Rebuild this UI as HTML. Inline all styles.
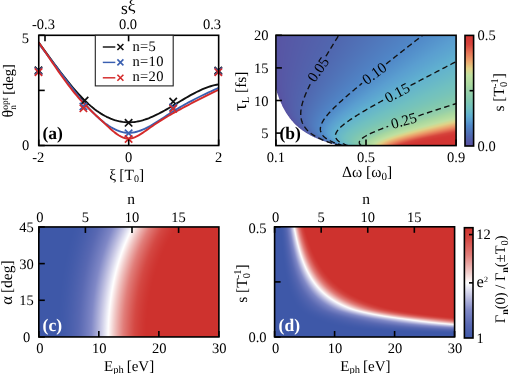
<!DOCTYPE html>
<html><head><meta charset="utf-8"><style>
html,body{margin:0;padding:0;background:#fff;}
#wrap{position:relative;width:511px;height:374px;overflow:hidden;}
canvas,svg{position:absolute;left:0;top:0;}
.fb{position:absolute;}
svg text{font-family:"Liberation Serif",serif;fill:#000;text-rendering:geometricPrecision;}
</style></head><body><div id="wrap">
<div class="fb" style="left:275.9px;top:35.3px;width:180.20000000000005px;height:110.3px;background:radial-gradient(ellipse 70px 55px at 0px 110px,#fff 98%,transparent 100%),linear-gradient(165deg,#5a4fa0 0%,#5068b0 30%,#5088c8 48%,#70c0c0 62%,#c0e0a0 76%,#eba56d 84%,#d84a40 92%,#d23432 100%);"></div>
<div class="fb" style="left:38.8px;top:226.95px;width:180.10000000000002px;height:110.0px;background:linear-gradient(90deg,#3e58a8 0%,#3e58a8 16%,#8088c4 33%,#fff 42%,#e17e7a 50%,#ce322e 58%,#ce322e 100%);"></div>
<div class="fb" style="left:274.6px;top:226.8px;width:180.0px;height:110.19999999999999px;background:radial-gradient(ellipse 175px 98px at 100% 0%,#ce322e 80%,#fff 90%,#8088c4 97%,#3e58a8 100%);"></div>
<div class="fb" style="left:465.0px;top:35.4px;width:8.600000000000023px;height:110.6px;background:linear-gradient(0deg,#5a4fa0,#5088c8 18%,#70c0c0 34%,#98d0a8 50%,#c0e0a0 64%,#eba56d 76%,#e57255 85%,#d63c3c 100%);"></div>
<div class="fb" style="left:464.4px;top:227.7px;width:8.600000000000023px;height:110.30000000000001px;background:linear-gradient(0deg,#3e58a8,#8088c4 25%,#fff 50%,#e17e7a 75%,#ce322e);"></div>
<canvas id="cv" width="511" height="374"></canvas>
<svg width="511" height="374" viewBox="0 0 511 374">
<defs>
<clipPath id="clipa"><rect x="38.75" y="35.3" width="179.9" height="110.2"/></clipPath>
<clipPath id="clipb"><rect x="275.9" y="35.3" width="180.20000000000005" height="110.3"/></clipPath>
</defs>
<g clip-path="url(#clipa)" fill="none" stroke-width="1.9" stroke-linejoin="round">
<path d="M38.60,42.32 L40.60,45.07 L42.60,47.82 L44.60,50.57 L46.60,53.32 L48.60,56.07 L50.60,58.80 L52.60,61.53 L54.60,64.23 L56.60,66.92 L58.60,69.58 L60.60,72.22 L62.60,74.82 L64.60,77.39 L66.60,79.92 L68.60,82.41 L70.60,84.85 L72.60,87.24 L74.60,89.57 L76.60,91.85 L78.60,94.07 L80.60,96.22 L82.60,98.31 L84.60,100.32 L86.60,102.25 L88.60,104.11 L90.60,105.88 L92.60,107.56 L94.60,109.16 L96.60,110.66 L98.60,112.06 L100.60,113.38 L102.60,114.60 L104.60,115.74 L106.60,116.78 L108.60,117.73 L110.60,118.59 L112.60,119.36 L114.60,120.04 L116.60,120.63 L118.60,121.14 L120.60,121.55 L122.60,121.87 L124.60,122.11 L126.60,122.25 L128.60,122.31 L130.60,122.28 L132.60,122.17 L134.60,121.96 L136.60,121.67 L138.60,121.29 L140.60,120.83 L142.60,120.30 L144.60,119.69 L146.60,119.01 L148.60,118.27 L150.60,117.46 L152.60,116.60 L154.60,115.69 L156.60,114.73 L158.60,113.73 L160.60,112.68 L162.60,111.60 L164.60,110.49 L166.60,109.36 L168.60,108.20 L170.60,107.02 L172.60,105.83 L174.60,104.63 L176.60,103.43 L178.60,102.22 L180.60,101.02 L182.60,99.82 L184.60,98.64 L186.60,97.47 L188.60,96.32 L190.60,95.20 L192.60,94.11 L194.60,93.04 L196.60,92.02 L198.60,91.04 L200.60,90.10 L202.60,89.21 L204.60,88.38 L206.60,87.60 L208.60,86.89 L210.60,86.25 L212.60,85.67 L214.60,85.17 L216.60,84.75 L218.50,84.43" stroke="#111111"/>
<path d="M38.60,43.69 L40.60,46.22 L42.60,48.78 L44.60,51.37 L46.60,53.99 L48.60,56.64 L50.60,59.30 L52.60,61.98 L54.60,64.67 L56.60,67.36 L58.60,70.06 L60.60,72.75 L62.60,75.44 L64.60,78.12 L66.60,80.79 L68.60,83.43 L70.60,86.05 L72.60,88.65 L74.60,91.21 L76.60,93.73 L78.60,96.22 L80.60,98.66 L82.60,101.05 L84.60,103.39 L86.60,105.67 L88.60,107.89 L90.60,110.05 L92.60,112.13 L94.60,114.14 L96.60,116.07 L98.60,117.92 L100.60,119.68 L102.60,121.35 L104.60,122.93 L106.60,124.40 L108.60,125.77 L110.60,127.03 L112.60,128.18 L114.60,129.21 L116.60,130.13 L118.60,130.91 L120.60,131.57 L122.60,132.09 L124.60,132.47 L126.60,132.71 L128.60,132.81 L130.60,132.75 L132.60,132.55 L134.60,132.22 L136.60,131.77 L138.60,131.19 L140.60,130.51 L142.60,129.73 L144.60,128.85 L146.60,127.90 L148.60,126.87 L150.60,125.77 L152.60,124.61 L154.60,123.41 L156.60,122.16 L158.60,120.89 L160.60,119.59 L162.60,118.27 L164.60,116.95 L166.60,115.63 L168.60,114.32 L170.60,113.03 L172.60,111.76 L174.60,110.51 L176.60,109.29 L178.60,108.10 L180.60,106.92 L182.60,105.77 L184.60,104.63 L186.60,103.52 L188.60,102.43 L190.60,101.35 L192.60,100.29 L194.60,99.25 L196.60,98.23 L198.60,97.23 L200.60,96.24 L202.60,95.26 L204.60,94.30 L206.60,93.35 L208.60,92.42 L210.60,91.50 L212.60,90.59 L214.60,89.69 L216.60,88.80 L218.50,87.97" stroke="#3a5fb0"/>
<path d="M38.60,42.25 L40.60,45.17 L42.60,48.12 L44.60,51.07 L46.60,54.03 L48.60,56.98 L50.60,59.94 L52.60,62.88 L54.60,65.80 L56.60,68.71 L58.60,71.59 L60.60,74.44 L62.60,77.25 L64.60,80.02 L66.60,82.75 L68.60,85.42 L70.60,88.03 L72.60,90.59 L74.60,93.07 L76.60,95.48 L78.60,97.81 L80.60,100.06 L82.60,102.23 L84.60,104.33 L86.60,106.37 L88.60,108.35 L90.60,110.28 L92.60,112.19 L94.60,114.07 L96.60,115.93 L98.60,117.79 L100.60,119.65 L102.60,121.52 L104.60,123.41 L106.60,125.30 L108.60,127.17 L110.60,128.99 L112.60,130.73 L114.60,132.37 L116.60,133.87 L118.60,135.21 L120.60,136.37 L122.60,137.32 L124.60,138.02 L126.60,138.46 L128.60,138.61 L130.60,138.45 L132.60,138.00 L134.60,137.31 L136.60,136.41 L138.60,135.35 L140.60,134.15 L142.60,132.86 L144.60,131.51 L146.60,130.12 L148.60,128.72 L150.60,127.31 L152.60,125.91 L154.60,124.53 L156.60,123.19 L158.60,121.89 L160.60,120.62 L162.60,119.37 L164.60,118.16 L166.60,116.97 L168.60,115.80 L170.60,114.65 L172.60,113.51 L174.60,112.38 L176.60,111.27 L178.60,110.17 L180.60,109.07 L182.60,107.99 L184.60,106.91 L186.60,105.84 L188.60,104.79 L190.60,103.74 L192.60,102.70 L194.60,101.66 L196.60,100.64 L198.60,99.62 L200.60,98.61 L202.60,97.60 L204.60,96.61 L206.60,95.61 L208.60,94.63 L210.60,93.65 L212.60,92.67 L214.60,91.70 L216.60,90.74 L218.50,89.82" stroke="#d42a2a"/>
</g>
<path d="M34.80,66.60L42.20,74.00M34.80,74.00L42.20,66.60" stroke="#111111" stroke-width="1.7" fill="none"/>
<path d="M80.90,96.90L88.30,104.30M80.90,104.30L88.30,96.90" stroke="#111111" stroke-width="1.7" fill="none"/>
<path d="M124.90,119.10L132.30,126.50M124.90,126.50L132.30,119.10" stroke="#111111" stroke-width="1.7" fill="none"/>
<path d="M169.50,97.90L176.90,105.30M169.50,105.30L176.90,97.90" stroke="#111111" stroke-width="1.7" fill="none"/>
<path d="M214.60,66.80L222.00,74.20M214.60,74.20L222.00,66.80" stroke="#111111" stroke-width="1.7" fill="none"/>
<path d="M34.80,67.50L42.20,74.90M34.80,74.90L42.20,67.50" stroke="#3a5fb0" stroke-width="1.7" fill="none"/>
<path d="M79.70,102.80L87.10,110.20M79.70,110.20L87.10,102.80" stroke="#3a5fb0" stroke-width="1.7" fill="none"/>
<path d="M124.90,129.60L132.30,137.00M124.90,137.00L132.30,129.60" stroke="#3a5fb0" stroke-width="1.7" fill="none"/>
<path d="M169.50,103.70L176.90,111.10M169.50,111.10L176.90,103.70" stroke="#3a5fb0" stroke-width="1.7" fill="none"/>
<path d="M214.60,67.70L222.00,75.10M214.60,75.10L222.00,67.70" stroke="#3a5fb0" stroke-width="1.7" fill="none"/>
<path d="M34.80,68.40L42.20,75.80M34.80,75.80L42.20,68.40" stroke="#d42a2a" stroke-width="1.7" fill="none"/>
<path d="M79.70,104.60L87.10,112.00M79.70,112.00L87.10,104.60" stroke="#d42a2a" stroke-width="1.7" fill="none"/>
<path d="M124.90,135.30L132.30,142.70M124.90,142.70L132.30,135.30" stroke="#d42a2a" stroke-width="1.7" fill="none"/>
<path d="M169.50,105.10L176.90,112.50M169.50,112.50L176.90,105.10" stroke="#d42a2a" stroke-width="1.7" fill="none"/>
<path d="M214.60,68.50L222.00,75.90M214.60,75.90L222.00,68.50" stroke="#d42a2a" stroke-width="1.7" fill="none"/>
<rect x="38.75" y="35.3" width="179.90" height="110.20" fill="none" stroke="#000" stroke-width="1.6"/>
<line x1="38.75" y1="145.50" x2="38.75" y2="139.50" stroke="#000" stroke-width="1.6"/>
<line x1="128.70" y1="145.50" x2="128.70" y2="139.50" stroke="#000" stroke-width="1.6"/>
<line x1="218.65" y1="145.50" x2="218.65" y2="139.50" stroke="#000" stroke-width="1.6"/>
<line x1="38.75" y1="145.50" x2="44.75" y2="145.50" stroke="#000" stroke-width="1.6"/>
<line x1="38.75" y1="90.40" x2="44.75" y2="90.40" stroke="#000" stroke-width="1.6"/>
<line x1="38.75" y1="35.30" x2="44.75" y2="35.30" stroke="#000" stroke-width="1.6"/>
<rect x="95.3" y="35.3" width="77.9" height="50.60" fill="#fff" stroke="#222" stroke-width="1.1"/>
<line x1="102.8" y1="47.0" x2="115.3" y2="47.0" stroke="#111111" stroke-width="1.45"/>
<path d="M117.40,44.00L123.40,50.00M117.40,50.00L123.40,44.00" stroke="#111111" stroke-width="1.6" fill="none"/>
<text x="132.40" y="50.50" font-size="14.5" text-anchor="start" letter-spacing="0.4">n=5</text>
<line x1="102.8" y1="62.4" x2="115.3" y2="62.4" stroke="#3a5fb0" stroke-width="1.45"/>
<path d="M117.40,59.40L123.40,65.40M117.40,65.40L123.40,59.40" stroke="#3a5fb0" stroke-width="1.6" fill="none"/>
<text x="132.40" y="65.90" font-size="14.5" text-anchor="start" letter-spacing="0.4">n=10</text>
<line x1="102.8" y1="77.8" x2="115.3" y2="77.8" stroke="#d42a2a" stroke-width="1.45"/>
<path d="M117.40,74.80L123.40,80.80M117.40,80.80L123.40,74.80" stroke="#d42a2a" stroke-width="1.6" fill="none"/>
<text x="132.40" y="81.30" font-size="14.5" text-anchor="start" letter-spacing="0.4">n=20</text>
<line x1="45.00" y1="35.30" x2="45.00" y2="41.30" stroke="#000" stroke-width="1.6"/>
<line x1="128.60" y1="35.30" x2="128.60" y2="41.30" stroke="#000" stroke-width="1.6"/>
<text x="38.25" y="161.50" font-size="14.5" text-anchor="middle" >-2</text>
<text x="128.70" y="161.50" font-size="14.5" text-anchor="middle" >0</text>
<text x="218.65" y="161.50" font-size="14.5" text-anchor="middle" >2</text>
<text x="25.60" y="149.80" font-size="14.5" text-anchor="middle" >0</text>
<text x="25.30" y="43.30" font-size="14.5" text-anchor="middle" >5</text>
<text x="43.50" y="29.00" font-size="14.5" text-anchor="middle" >-0.3</text>
<text x="128.00" y="29.00" font-size="14.5" text-anchor="middle" >0.0</text>
<text x="212.00" y="29.00" font-size="14.5" text-anchor="middle" >0.3</text>
<text x="128.20" y="13.60" font-size="17.5" text-anchor="middle" >s<tspan dy="-2.2">&#958;</tspan></text>
<text x="126.75" y="179.60" font-size="15.5" text-anchor="middle" >&#958;&#8201;[T<tspan font-size="10" dy="2.3">0</tspan><tspan dy="-2.3">]</tspan></text>
<text transform="translate(13.3,90.8) rotate(-90)" font-size="14.5" text-anchor="middle"><tspan font-size="16">&#952;</tspan><tspan font-size="9.5" dy="3">n</tspan><tspan font-size="9.5" dx="-4.8" dy="-8">opt</tspan><tspan dy="5">&#8201;[deg]</tspan></text>
<text x="42.5" y="139.3" font-size="17.5" font-weight="bold">(a)</text>
<g clip-path="url(#clipb)">
<path d="M340.57,145.60 L338.35,145.05 L336.25,144.50 L334.27,143.95 L332.40,143.39 L330.62,142.84 L328.94,142.29 L327.34,141.74 L325.83,141.19 L324.39,140.64 L323.03,140.08 L321.73,139.53 L320.50,138.98 L319.33,138.43 L318.21,137.88 L317.15,137.33 L316.14,136.78 L315.18,136.22 L314.27,135.67 L313.40,135.12 L312.58,134.57 L311.79,134.02 L311.04,133.47 L310.33,132.92 L309.66,132.36 L309.02,131.81 L308.41,131.26 L307.83,130.71 L307.28,130.16 L306.77,129.61 L306.28,129.06 L305.81,128.50 L305.38,127.95 L304.96,127.40 L304.58,126.85 L304.21,126.30 L303.87,125.75 L303.55,125.19 L303.25,124.64 L302.97,124.09 L302.71,123.54 L302.46,122.99 L302.24,122.44 L302.04,121.89 L301.85,121.33 L301.68,120.78 L301.52,120.23 L301.38,119.68 L301.25,119.13 L301.14,118.58 L301.05,118.02 L300.96,117.47 L300.89,116.92 L300.84,116.37 L300.79,115.82 L300.76,115.27 L300.74,114.72 L300.73,114.16 L300.73,113.61 L300.74,113.06 L300.76,112.51 L300.80,111.96 L300.84,111.41 L300.89,110.86 L300.95,110.30 L301.02,109.75 L301.09,109.20 L301.18,108.65 L301.27,108.10 L301.37,107.55 L301.48,106.99 L301.59,106.44 L301.72,105.89 L301.84,105.34 L301.98,104.79 L302.12,104.24 L302.27,103.69 L302.42,103.13 L302.58,102.58 L302.75,102.03 L302.92,101.48 L303.09,100.93 L303.27,100.38 L303.46,99.83 L303.65,99.27 L303.84,98.72 L304.04,98.17 L304.25,97.62 L304.45,97.07 L304.67,96.52 L304.88,95.97 L305.10,95.41 L305.33,94.86 L305.55,94.31 L305.78,93.76 L306.02,93.21 L306.25,92.66 L306.49,92.10 L306.74,91.55 L306.98,91.00 L307.23,90.45 L307.48,89.90 L307.74,89.35 L307.99,88.80 L308.25,88.24 L308.52,87.69 L308.78,87.14 L309.05,86.59 L309.32,86.04 L309.59,85.49 L309.86,84.93 L310.14,84.38 L310.41,83.83 L310.69,83.28 L310.97,82.73" fill="none" stroke="#111" stroke-width="1.35" stroke-dasharray="5.6 3.4"/>
<path d="M325.93,56.26 L326.26,55.71 L326.59,55.15 L326.92,54.60 L327.26,54.05 L327.59,53.50 L327.92,52.95 L328.26,52.40 L328.59,51.85 L328.93,51.29 L329.26,50.74 L329.60,50.19 L329.93,49.64 L330.27,49.09 L330.60,48.54 L330.94,47.98 L331.28,47.43 L331.62,46.88 L331.96,46.33 L332.29,45.78 L332.63,45.23 L332.97,44.68 L333.31,44.12 L333.65,43.57 L333.99,43.02 L334.33,42.47 L334.67,41.92 L335.01,41.37 L335.35,40.81 L335.69,40.26 L336.04,39.71 L336.38,39.16 L336.72,38.61 L337.06,38.06 L337.41,37.51 L337.75,36.95 L338.09,36.40 L338.44,35.85 L338.78,35.30" fill="none" stroke="#111" stroke-width="1.35" stroke-dasharray="5.6 3.4"/>
<text transform="translate(318.17,69.49) rotate(-55.0)" font-size="15" text-anchor="middle" dy="5">0.05</text>
<path d="M343.43,145.60 L341.44,145.05 L339.59,144.50 L337.86,143.95 L336.25,143.39 L334.76,142.84 L333.36,142.29 L332.07,141.74 L330.86,141.19 L329.75,140.64 L328.71,140.08 L327.76,139.53 L326.87,138.98 L326.06,138.43 L325.32,137.88 L324.64,137.33 L324.02,136.78 L323.46,136.22 L322.95,135.67 L322.49,135.12 L322.09,134.57 L321.73,134.02 L321.42,133.47 L321.15,132.92 L320.93,132.36 L320.74,131.81 L320.59,131.26 L320.48,130.71 L320.40,130.16 L320.36,129.61 L320.34,129.06 L320.36,128.50 L320.41,127.95 L320.48,127.40 L320.58,126.85 L320.71,126.30 L320.86,125.75 L321.03,125.19 L321.23,124.64 L321.44,124.09 L321.68,123.54 L321.94,122.99 L322.21,122.44 L322.50,121.89 L322.81,121.33 L323.13,120.78 L323.47,120.23 L323.83,119.68 L324.20,119.13 L324.58,118.58 L324.98,118.02 L325.38,117.47 L325.80,116.92 L326.23,116.37 L326.67,115.82 L327.12,115.27 L327.59,114.72 L328.06,114.16 L328.54,113.61 L329.02,113.06 L329.52,112.51 L330.03,111.96 L330.54,111.41 L331.06,110.86 L331.58,110.30 L332.11,109.75 L332.65,109.20 L333.20,108.65 L333.75,108.10 L334.31,107.55 L334.87,106.99 L335.44,106.44 L336.01,105.89 L336.59,105.34 L337.17,104.79 L337.75,104.24 L338.34,103.69 L338.94,103.13 L339.53,102.58 L340.14,102.03 L340.74,101.48 L341.35,100.93 L341.96,100.38 L342.58,99.83 L343.20,99.27 L343.82,98.72 L344.44,98.17 L345.07,97.62 L345.70,97.07 L346.33,96.52 L346.97,95.97 L347.60,95.41 L348.24,94.86 L348.88,94.31 L349.53,93.76 L350.17,93.21 L350.82,92.66 L351.47,92.10 L352.12,91.55 L352.77,91.00 L353.43,90.45 L354.09,89.90 L354.74,89.35 L355.40,88.80 L356.06,88.24 L356.73,87.69 L357.39,87.14 L358.06,86.59 L358.72,86.04 L359.39,85.49 L360.06,84.93 L360.73,84.38 L361.40,83.83 L362.07,83.28" fill="none" stroke="#111" stroke-width="1.35" stroke-dasharray="5.6 3.4"/>
<path d="M386.09,63.98 L386.79,63.43 L387.49,62.88 L388.18,62.32 L388.88,61.77 L389.58,61.22 L390.27,60.67 L390.97,60.12 L391.67,59.57 L392.37,59.01 L393.07,58.46 L393.77,57.91 L394.47,57.36 L395.17,56.81 L395.87,56.26 L396.57,55.71 L397.27,55.15 L397.97,54.60 L398.67,54.05 L399.37,53.50 L400.07,52.95 L400.78,52.40 L401.48,51.85 L402.18,51.29 L402.88,50.74 L403.59,50.19 L404.29,49.64 L404.99,49.09 L405.70,48.54 L406.40,47.98 L407.10,47.43 L407.81,46.88 L408.51,46.33 L409.21,45.78 L409.92,45.23 L410.62,44.68 L411.33,44.12 L412.03,43.57 L412.74,43.02 L413.44,42.47 L414.15,41.92 L414.85,41.37 L415.56,40.81 L416.27,40.26 L416.97,39.71 L417.68,39.16 L418.38,38.61 L419.09,38.06 L419.80,37.51 L420.50,36.95 L421.21,36.40 L421.92,35.85 L422.62,35.30" fill="none" stroke="#111" stroke-width="1.35" stroke-dasharray="5.6 3.4"/>
<text transform="translate(374.33,73.35) rotate(-36.5)" font-size="15" text-anchor="middle" dy="5">0.10</text>
<path d="M348.01,145.60 L346.37,145.05 L344.88,144.50 L343.53,143.95 L342.31,143.39 L341.22,142.84 L340.24,142.29 L339.36,141.74 L338.59,141.19 L337.92,140.64 L337.33,140.08 L336.83,139.53 L336.42,138.98 L336.08,138.43 L335.81,137.88 L335.61,137.33 L335.48,136.78 L335.41,136.22 L335.40,135.67 L335.44,135.12 L335.53,134.57 L335.67,134.02 L335.86,133.47 L336.10,132.92 L336.37,132.36 L336.69,131.81 L337.04,131.26 L337.43,130.71 L337.85,130.16 L338.30,129.61 L338.79,129.06 L339.30,128.50 L339.83,127.95 L340.40,127.40 L340.99,126.85 L341.60,126.30 L342.23,125.75 L342.88,125.19 L343.55,124.64 L344.24,124.09 L344.95,123.54 L345.67,122.99 L346.41,122.44 L347.16,121.89 L347.93,121.33 L348.71,120.78 L349.50,120.23 L350.31,119.68 L351.13,119.13 L351.95,118.58 L352.79,118.02 L353.64,117.47 L354.49,116.92 L355.36,116.37 L356.23,115.82 L357.11,115.27 L358.00,114.72 L358.90,114.16 L359.80,113.61 L360.71,113.06 L361.63,112.51 L362.55,111.96 L363.48,111.41 L364.41,110.86 L365.35,110.30 L366.29,109.75 L367.24,109.20 L368.19,108.65 L369.15,108.10 L370.11,107.55 L371.08,106.99 L372.04,106.44 L373.02,105.89 L373.99,105.34 L374.97,104.79 L375.95,104.24 L376.94,103.69 L377.93,103.13 L378.92,102.58 L379.91,102.03 L380.91,101.48 L381.90,100.93 L382.90,100.38 L383.91,99.83" fill="none" stroke="#111" stroke-width="1.35" stroke-dasharray="5.6 3.4"/>
<path d="M410.55,85.49 L411.59,84.93 L412.63,84.38 L413.67,83.83 L414.72,83.28 L415.76,82.73 L416.80,82.18 L417.85,81.63 L418.89,81.07 L419.94,80.52 L420.99,79.97 L422.03,79.42 L423.08,78.87 L424.13,78.32 L425.18,77.77 L426.23,77.21 L427.28,76.66 L428.33,76.11 L429.38,75.56 L430.43,75.01 L431.48,74.46 L432.53,73.91 L433.59,73.35 L434.64,72.80 L435.69,72.25 L436.75,71.70 L437.80,71.15 L438.86,70.60 L439.91,70.04 L440.97,69.49 L442.02,68.94 L443.08,68.39 L444.14,67.84 L445.19,67.29 L446.25,66.74 L447.31,66.18 L448.36,65.63 L449.42,65.08 L450.48,64.53 L451.54,63.98 L452.60,63.43 L453.66,62.88 L454.71,62.32 L455.77,61.77 L456.83,61.22 L457.89,60.67 L458.95,60.12 L460.01,59.57 L461.07,59.01 L462.13,58.46 L463.20,57.91 L464.26,57.36 L465.32,56.81 L466.38,56.26 L467.44,55.71 L468.50,55.15 L469.56,54.60 L470.63,54.05 L471.69,53.50 L472.75,52.95 L473.81,52.40 L474.88,51.85 L475.94,51.29 L477.00,50.74 L478.07,50.19 L479.13,49.64 L480.19,49.09 L481.26,48.54 L482.32,47.98 L483.38,47.43 L484.45,46.88 L485.51,46.33 L486.58,45.78 L487.64,45.23 L488.70,44.68 L489.77,44.12 L490.83,43.57 L491.90,43.02 L492.96,42.47 L494.03,41.92 L495.09,41.37 L496.16,40.81 L497.22,40.26 L498.29,39.71 L499.35,39.16 L500.42,38.61 L501.48,38.06 L502.55,37.51 L503.62,36.95 L504.68,36.40 L505.75,35.85 L506.81,35.30" fill="none" stroke="#111" stroke-width="1.35" stroke-dasharray="5.6 3.4"/>
<text transform="translate(397.12,92.66) rotate(-28.0)" font-size="15" text-anchor="middle" dy="5">0.15</text>
<path d="M361.36,145.60 L360.63,145.05 L360.07,144.50 L359.67,143.95 L359.40,143.39 L359.28,142.84 L359.27,142.29 L359.39,141.74 L359.61,141.19 L359.93,140.64 L360.35,140.08 L360.85,139.53 L361.43,138.98 L362.09,138.43 L362.82,137.88 L363.62,137.33 L364.48,136.78 L365.39,136.22 L366.36,135.67 L367.38,135.12 L368.44,134.57 L369.54,134.02 L370.69,133.47 L371.87,132.92 L373.09,132.36 L374.34,131.81 L375.62,131.26 L376.92,130.71 L378.26,130.16 L379.62,129.61 L381.00,129.06 L382.40,128.50 L383.83,127.95 L385.27,127.40 L386.73,126.85 L388.21,126.30" fill="none" stroke="#111" stroke-width="1.35" stroke-dasharray="5.6 3.4"/>
<path d="M418.43,115.82 L420.09,115.27 L421.76,114.72 L423.44,114.16 L425.12,113.61 L426.80,113.06 L428.49,112.51 L430.18,111.96 L431.88,111.41 L433.58,110.86 L435.28,110.30 L436.98,109.75 L438.69,109.20 L440.40,108.65 L442.12,108.10 L443.84,107.55 L445.55,106.99 L447.28,106.44 L449.00,105.89 L450.72,105.34 L452.45,104.79 L454.18,104.24 L455.91,103.69 L457.65,103.13 L459.38,102.58 L461.12,102.03 L462.86,101.48 L464.60,100.93 L466.34,100.38 L468.08,99.83 L469.83,99.27 L471.57,98.72 L473.32,98.17 L475.07,97.62 L476.82,97.07 L478.57,96.52 L480.32,95.97 L482.07,95.41 L483.82,94.86 L485.58,94.31 L487.33,93.76 L489.09,93.21 L490.85,92.66 L492.60,92.10 L494.36,91.55 L496.12,91.00 L497.88,90.45 L499.64,89.90 L501.40,89.35 L503.16,88.80 L504.93,88.24 L506.69,87.69 L508.45,87.14 L510.22,86.59 L511.98,86.04 L513.75,85.49 L515.51,84.93 L517.28,84.38 L519.05,83.83 L520.81,83.28 L522.58,82.73 L524.35,82.18 L526.12,81.63 L527.89,81.07 L529.65,80.52 L531.42,79.97 L533.19,79.42 L534.96,78.87 L536.74,78.32 L538.51,77.77 L540.28,77.21 L542.05,76.66 L543.82,76.11 L545.59,75.56 L547.37,75.01 L549.14,74.46 L550.91,73.91 L552.69,73.35 L554.46,72.80 L556.23,72.25 L558.01,71.70 L559.78,71.15 L561.56,70.60 L563.33,70.04 L565.11,69.49 L566.88,68.94 L568.66,68.39 L570.43,67.84 L572.21,67.29 L573.98,66.74 L575.76,66.18 L577.54,65.63 L579.31,65.08 L581.09,64.53 L582.86,63.98 L584.64,63.43 L586.42,62.88 L588.20,62.32 L589.97,61.77 L591.75,61.22 L593.53,60.67 L595.31,60.12 L597.08,59.57 L598.86,59.01 L600.64,58.46 L602.42,57.91 L604.20,57.36 L605.98,56.81 L607.75,56.26 L609.53,55.71 L611.31,55.15 L613.09,54.60 L614.87,54.05 L616.65,53.50 L618.43,52.95 L620.21,52.40 L621.99,51.85 L623.77,51.29 L625.55,50.74 L627.32,50.19 L629.10,49.64 L630.88,49.09 L632.66,48.54 L634.44,47.98 L636.22,47.43 L638.00,46.88 L639.78,46.33 L641.56,45.78 L643.35,45.23 L645.13,44.68 L646.91,44.12 L648.69,43.57 L650.47,43.02 L652.25,42.47 L654.03,41.92 L655.81,41.37 L657.59,40.81 L659.37,40.26 L661.15,39.71 L662.93,39.16 L664.71,38.61 L666.49,38.06 L668.28,37.51 L670.06,36.95 L671.84,36.40 L673.62,35.85 L675.40,35.30" fill="none" stroke="#111" stroke-width="1.35" stroke-dasharray="5.6 3.4"/>
<text transform="translate(403.71,120.78) rotate(-15.5)" font-size="15" text-anchor="middle" dy="5">0.25</text>
</g>
<rect x="275.9" y="35.3" width="180.20" height="110.30" fill="none" stroke="#000" stroke-width="1.6"/>
<line x1="275.90" y1="133.10" x2="281.90" y2="133.10" stroke="#000" stroke-width="1.6"/>
<text x="268.50" y="138.10" font-size="14.5" text-anchor="end" >5</text>
<line x1="275.90" y1="100.50" x2="281.90" y2="100.50" stroke="#000" stroke-width="1.6"/>
<text x="268.50" y="105.50" font-size="14.5" text-anchor="end" >10</text>
<line x1="275.90" y1="67.90" x2="281.90" y2="67.90" stroke="#000" stroke-width="1.6"/>
<text x="268.50" y="72.90" font-size="14.5" text-anchor="end" >15</text>
<line x1="275.90" y1="35.30" x2="281.90" y2="35.30" stroke="#000" stroke-width="1.6"/>
<text x="268.50" y="40.30" font-size="14.5" text-anchor="end" >20</text>
<line x1="275.90" y1="145.60" x2="275.90" y2="139.60" stroke="#000" stroke-width="1.6"/>
<text x="275.90" y="161.50" font-size="14.5" text-anchor="middle" >0.1</text>
<line x1="366.00" y1="145.60" x2="366.00" y2="139.60" stroke="#000" stroke-width="1.6"/>
<text x="366.00" y="161.50" font-size="14.5" text-anchor="middle" >0.5</text>
<line x1="456.10" y1="145.60" x2="456.10" y2="139.60" stroke="#000" stroke-width="1.6"/>
<text x="456.10" y="161.50" font-size="14.5" text-anchor="middle" >0.9</text>
<text x="367.00" y="176.90" font-size="15.5" text-anchor="middle" >&#916;&#969;&#8197;[&#969;<tspan font-size="11" dy="3">0</tspan><tspan dy="-3">]</tspan></text>
<text transform="translate(246,91.2) rotate(-90)" font-size="15.5" text-anchor="middle"><tspan font-size="19">&#964;</tspan><tspan font-size="10.5" dy="2.5">L</tspan><tspan dy="-2.5"> [fs]</tspan></text>
<text x="279.5" y="139.3" font-size="17.5" font-weight="bold">(b)</text>
<rect x="465.0" y="35.4" width="8.60" height="110.60" fill="none" stroke="#000" stroke-width="1.6"/>
<line x1="473.60" y1="90.70" x2="469.60" y2="90.70" stroke="#000" stroke-width="1.6"/>
<text x="477.50" y="39.50" font-size="14.5" text-anchor="start" >0.5</text>
<text x="477.50" y="150.50" font-size="14.5" text-anchor="start" >0.0</text>
<text transform="translate(504.3,92.3) rotate(-90)" font-size="15.5" text-anchor="middle">s [T<tspan font-size="10.5" dy="2.5">0</tspan><tspan font-size="10.5" dy="-9" dx="-5.2">-1</tspan><tspan dy="6.5">]</tspan></text>
<rect x="38.8" y="226.95" width="180.10" height="110.00" fill="none" stroke="#000" stroke-width="1.6"/>
<line x1="38.80" y1="336.95" x2="38.80" y2="330.95" stroke="#000" stroke-width="1.6"/>
<text x="39.80" y="352.50" font-size="14.5" text-anchor="middle" >0</text>
<line x1="98.83" y1="336.95" x2="98.83" y2="330.95" stroke="#000" stroke-width="1.6"/>
<text x="99.13" y="352.50" font-size="14.5" text-anchor="middle" >10</text>
<line x1="158.87" y1="336.95" x2="158.87" y2="330.95" stroke="#000" stroke-width="1.6"/>
<text x="159.17" y="352.50" font-size="14.5" text-anchor="middle" >20</text>
<line x1="218.90" y1="336.95" x2="218.90" y2="330.95" stroke="#000" stroke-width="1.6"/>
<text x="219.20" y="352.50" font-size="14.5" text-anchor="middle" >30</text>
<line x1="38.80" y1="336.95" x2="44.80" y2="336.95" stroke="#000" stroke-width="1.6"/>
<text x="26.60" y="342.05" font-size="14.5" text-anchor="middle" >0</text>
<line x1="38.80" y1="300.28" x2="44.80" y2="300.28" stroke="#000" stroke-width="1.6"/>
<text x="26.60" y="305.38" font-size="14.5" text-anchor="middle" >15</text>
<line x1="38.80" y1="263.62" x2="44.80" y2="263.62" stroke="#000" stroke-width="1.6"/>
<text x="26.60" y="268.72" font-size="14.5" text-anchor="middle" >30</text>
<line x1="38.80" y1="226.95" x2="44.80" y2="226.95" stroke="#000" stroke-width="1.6"/>
<text x="26.60" y="232.05" font-size="14.5" text-anchor="middle" >45</text>
<line x1="38.80" y1="226.95" x2="38.80" y2="232.95" stroke="#000" stroke-width="1.6"/>
<text x="39.80" y="221.50" font-size="14.5" text-anchor="middle" >0</text>
<line x1="85.40" y1="226.95" x2="85.40" y2="232.95" stroke="#000" stroke-width="1.6"/>
<text x="85.40" y="221.50" font-size="14.5" text-anchor="middle" >5</text>
<line x1="132.00" y1="226.95" x2="132.00" y2="232.95" stroke="#000" stroke-width="1.6"/>
<text x="132.00" y="221.50" font-size="14.5" text-anchor="middle" >10</text>
<line x1="178.60" y1="226.95" x2="178.60" y2="232.95" stroke="#000" stroke-width="1.6"/>
<text x="178.60" y="221.50" font-size="14.5" text-anchor="middle" >15</text>
<text x="131.00" y="203.60" font-size="15.5" text-anchor="middle" >n</text>
<text x="129.10" y="370.70" font-size="15" text-anchor="middle" >E<tspan font-size="10.5" dy="2.5">ph</tspan><tspan dy="-2.5">&#8201;[eV]</tspan></text>
<text transform="translate(11.5,282.6) rotate(-90)" font-size="15.5" text-anchor="middle"><tspan font-size="16.5">&#945;</tspan>&#8201;[deg]</text>
<text x="42.6" y="331.2" font-size="17.5" font-weight="bold" style="fill:#fff">(c)</text>
<rect x="274.6" y="226.8" width="180.00" height="110.20" fill="none" stroke="#000" stroke-width="1.6"/>
<line x1="274.60" y1="337.00" x2="274.60" y2="331.00" stroke="#000" stroke-width="1.6"/>
<text x="275.60" y="352.50" font-size="14.5" text-anchor="middle" >0</text>
<line x1="334.60" y1="337.00" x2="334.60" y2="331.00" stroke="#000" stroke-width="1.6"/>
<text x="334.90" y="352.50" font-size="14.5" text-anchor="middle" >10</text>
<line x1="394.60" y1="337.00" x2="394.60" y2="331.00" stroke="#000" stroke-width="1.6"/>
<text x="394.90" y="352.50" font-size="14.5" text-anchor="middle" >20</text>
<line x1="454.60" y1="337.00" x2="454.60" y2="331.00" stroke="#000" stroke-width="1.6"/>
<text x="454.90" y="352.50" font-size="14.5" text-anchor="middle" >30</text>
<line x1="274.60" y1="337.00" x2="280.60" y2="337.00" stroke="#000" stroke-width="1.6"/>
<line x1="274.60" y1="281.90" x2="280.60" y2="281.90" stroke="#000" stroke-width="1.6"/>
<line x1="274.60" y1="226.80" x2="280.60" y2="226.80" stroke="#000" stroke-width="1.6"/>
<text x="266.50" y="233.30" font-size="14.5" text-anchor="end" >0.5</text>
<text x="266.50" y="342.00" font-size="14.5" text-anchor="end" >0.0</text>
<line x1="274.60" y1="226.80" x2="274.60" y2="232.80" stroke="#000" stroke-width="1.6"/>
<text x="275.60" y="221.50" font-size="14.5" text-anchor="middle" >0</text>
<line x1="321.18" y1="226.80" x2="321.18" y2="232.80" stroke="#000" stroke-width="1.6"/>
<text x="321.18" y="221.50" font-size="14.5" text-anchor="middle" >5</text>
<line x1="367.75" y1="226.80" x2="367.75" y2="232.80" stroke="#000" stroke-width="1.6"/>
<text x="367.75" y="221.50" font-size="14.5" text-anchor="middle" >10</text>
<line x1="414.33" y1="226.80" x2="414.33" y2="232.80" stroke="#000" stroke-width="1.6"/>
<text x="414.33" y="221.50" font-size="14.5" text-anchor="middle" >15</text>
<text x="366.00" y="203.60" font-size="15.5" text-anchor="middle" >n</text>
<text x="365.40" y="370.70" font-size="15" text-anchor="middle" >E<tspan font-size="10.5" dy="2.5">ph</tspan><tspan dy="-2.5">&#8201;[eV]</tspan></text>
<text transform="translate(247.3,283.6) rotate(-90)" font-size="15.5" text-anchor="middle">s [T<tspan font-size="10.5" dy="2.5">0</tspan><tspan font-size="10.5" dy="-9" dx="-5.2">-1</tspan><tspan dy="6.5">]</tspan></text>
<text x="278.6" y="331.2" font-size="17.5" font-weight="bold" style="fill:#fff">(d)</text>
<rect x="464.4" y="227.7" width="8.60" height="110.30" fill="none" stroke="#000" stroke-width="1.6"/>
<line x1="473.00" y1="282.85" x2="469.00" y2="282.85" stroke="#000" stroke-width="1.6"/>
<line x1="473.00" y1="234.60" x2="469.00" y2="234.60" stroke="#000" stroke-width="1.6"/>
<text x="476.30" y="239.00" font-size="14.5" text-anchor="start" >12</text>
<text x="476.60" y="287.00" font-size="14.5" text-anchor="start" ><tspan font-size="16.5">e</tspan><tspan font-size="8" dy="-5.5">2</tspan></text>
<text x="476.50" y="343.30" font-size="14.5" text-anchor="start" >1</text>
<text transform="translate(505.3,279.3) rotate(-90)" font-size="14.5" text-anchor="middle">&#915;<tspan font-size="10" font-weight="bold" dy="2.5">n</tspan><tspan dy="-2.5">(0) / &#915;</tspan><tspan font-size="10" font-weight="bold" dy="2.5">n</tspan><tspan dy="-2.5">(&#177;T</tspan><tspan font-size="10.5" dy="2.5">0</tspan><tspan dy="-2.5">)</tspan></text>
</svg></div>
<script>
const G = {"A": {"x0": 38.75, "x1": 218.65, "y0": 35.3, "y1": 145.5}, "B": {"x0": 275.9, "x1": 456.1, "y0": 35.3, "y1": 145.6}, "C": {"x0": 38.8, "x1": 218.9, "y0": 226.95, "y1": 336.95}, "D": {"x0": 274.6, "x1": 454.6, "y0": 226.8, "y1": 337.0}, "CBB": {"x0": 465.0, "x1": 473.6, "y0": 35.4, "y1": 146.0}, "CBD": {"x0": 464.4, "x1": 473.0, "y0": 227.7, "y1": 338.0}, "K": 2.67, "CC": 1.18, "TMAX": 20.0, "PXU": 6.52};
const cv = document.getElementById('cv');
const ctx = cv.getContext('2d');
const W = 511, H = 374;
const img = ctx.createImageData(W, H);
const D8 = img.data;
for (let i = 0; i < D8.length; i += 4) { D8[i] = 255; D8[i+1] = 255; D8[i+2] = 255; D8[i+3] = 255; }
function interp(stops, t) {
  if (t <= stops[0][0]) return stops[0].slice(1);
  for (let i = 1; i < stops.length; i++) {
    if (t <= stops[i][0]) {
      const a = stops[i-1], b = stops[i];
      const f = (t - a[0]) / (b[0] - a[0]);
      return [a[1] + f*(b[1]-a[1]), a[2] + f*(b[2]-a[2]), a[3] + f*(b[3]-a[3])];
    }
  }
  return stops[stops.length-1].slice(1);
}
// spectral-like custom colormap for panel b
const SPEC = [
 [0.00, 90, 79, 160],
 [0.09, 80, 104, 176],
 [0.185, 80, 136, 200],
 [0.23, 90, 158, 208],
 [0.275, 96, 176, 208],
 [0.34, 112, 192, 192],
 [0.41, 128, 200, 176],
 [0.50, 152, 208, 168],
 [0.55, 168, 216, 160],
 [0.64, 192, 224, 160],
 [0.70, 224, 210, 135],
 [0.765, 235, 165, 109],
 [0.846, 229, 114, 85],
 [0.92, 214, 68, 60],
 [1.00, 210, 52, 50]];
const PMAP = [[0,0],[0.05,0.085],[0.12,0.225],[0.15,0.285],[0.206,0.37],[0.251,0.45],[0.294,0.56],[0.336,0.67],[0.382,0.775],[0.416,0.86],[0.456,0.945],[0.485,0.99],[0.52,1.0]];
function interp1(T, x) {
  if (x <= T[0][0]) return T[0][1];
  for (let i = 1; i < T.length; i++) if (x <= T[i][0]) { const f = (x - T[i-1][0]) / (T[i][0] - T[i-1][0]); return T[i-1][1] + f * (T[i][1] - T[i-1][1]); }
  return T[T.length-1][1];
}
const BWR = [[0, 62, 88, 168], [0.118, 88, 104, 178], [0.253, 128, 136, 198], [0.389, 200, 200, 229], [0.5, 255, 255, 255], [0.6, 241, 202, 200], [0.75, 225, 126, 122], [0.9, 212, 72, 67], [1, 206, 50, 46]];
function fieldB(x, y) {
  const P = G.B;
  const dw = 0.1 + (x - P.x0) / (P.x1 - P.x0) * 0.8;
  const tau = G.TMAX - (y - P.y0) / G.PXU;
  const q = dw * tau;
  if (q < G.CC) return null;
  const s = G.K * Math.sqrt(q*q - G.CC*G.CC) / (tau*tau);
  return interp(SPEC, interp1(PMAP, s));
}
const E2 = Math.exp(2), VMAX = 12.64;
function normR(R) {
  if (R <= E2) return 0.5 * (R - 1) / (E2 - 1);
  return Math.min(1, 0.5 + 0.5 * (R - E2) / (VMAX - E2));
}
function vmap(u) {
  if (u <= 1) { const d = Math.max(0, (u - 0.3) / 0.7); return 0.5 * Math.pow(d, 1.7); }
  const d = Math.min(1, (u - 1) / 0.52); return 0.5 + 0.5 * (1 - Math.pow(1 - d, 1.4));
}
function fieldC(x, y) {
  const P = G.C;
  const E = (x - P.x0) / (P.x1 - P.x0) * 30;
  const a = (P.y1 - y) / (P.y1 - P.y0) * 45;
  const a2 = a * a;
  const Eb = 11.56 + 1.702e-3 * a2 + 1.583e-7 * a2 * a2;
  const W = 0.5 * (Eb + 13.0);
  return interp(BWR, vmap(1 + (E - Eb) / W));
}
function fieldD(x, y) {
  const P = G.D;
  const E = (x - P.x0) / (P.x1 - P.x0) * 30;
  const s = Math.max(1e-4, (P.y1 - y) / (P.y1 - P.y0) * 0.5);
  const k = 1.63 + 0.14 * Math.max(0, 1 - Math.abs(s - 0.08) / 0.045);
  const Eb = k / s;
  return interp(BWR, vmap(E / Eb));
}
function cbB(x, y) { const P = G.CBB; return interp(SPEC, (P.y1 - y) / (P.y1 - P.y0)); }
function cbD(x, y) { const P = G.CBD; return interp(BWR, (P.y1 - y) / (P.y1 - P.y0)); }
function paint(P, f) {
  const NS = 3;
  for (let py = Math.floor(P.y0); py < Math.ceil(P.y1); py++) {
    for (let px = Math.floor(P.x0); px < Math.ceil(P.x1); px++) {
      let r = 0, g = 0, b = 0, n = 0;
      for (let sy = 0; sy < NS; sy++) for (let sx = 0; sx < NS; sx++) {
        const x = px + (sx + 0.5) / NS, y = py + (sy + 0.5) / NS;
        if (x < P.x0 || x > P.x1 || y < P.y0 || y > P.y1) continue;
        n++;
        const c = f(x, y);
        if (c === null) { r += 255; g += 255; b += 255; }
        else { r += c[0]; g += c[1]; b += c[2]; }
      }
      if (n === 0) continue;
      const k = (py * W + px) * 4;
      const cov = n / (NS*NS);
      D8[k] = Math.round(r/n*cov + 255*(1-cov)); D8[k+1] = Math.round(g/n*cov + 255*(1-cov)); D8[k+2] = Math.round(b/n*cov + 255*(1-cov));
    }
  }
}
paint(G.B, fieldB); paint(G.C, fieldC); paint(G.D, fieldD); paint(G.CBB, cbB); paint(G.CBD, cbD);
ctx.putImageData(img, 0, 0);
</script>
</body></html>
